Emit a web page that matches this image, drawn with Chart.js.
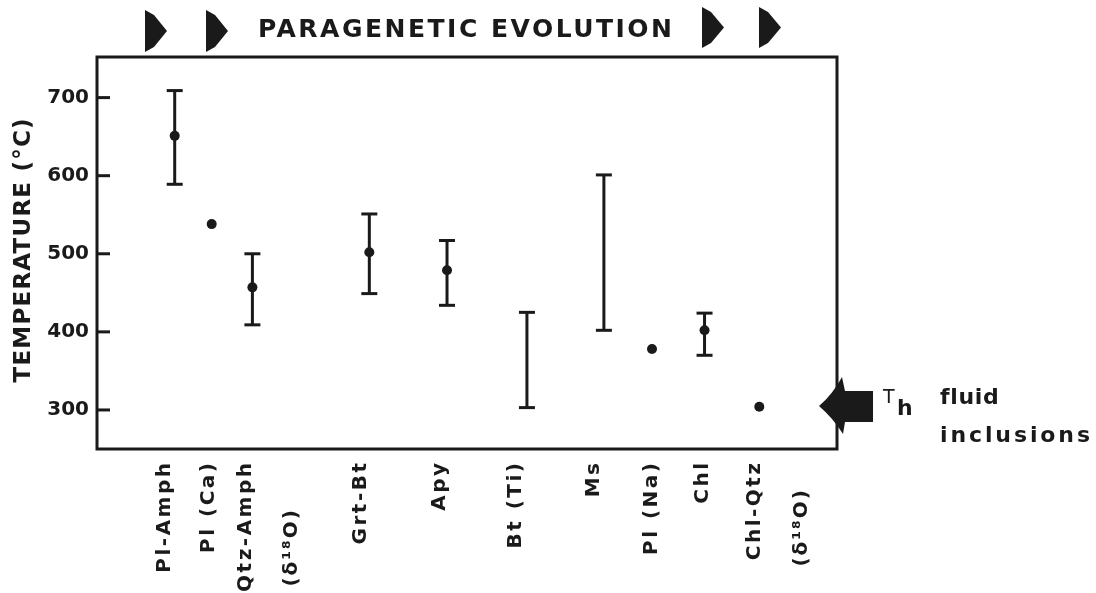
<!DOCTYPE html>
<html>
<head>
<meta charset="utf-8">
<script src="https://cdn.jsdelivr.net/npm/chart.js@4.4.0/dist/chart.umd.min.js"></script>
<style>
  html, body { margin: 0; padding: 0; background: #fff; }
</style>
</head>
<body>
<canvas id="myChart" width="1096" height="593"></canvas>
<script>
// geothermometers, in paragenetic order
var minerals = ['Pl-Amph', 'Pl (Ca)', 'Qtz-Amph', 'Grt-Bt', 'Apy', 'Bt (Ti)', 'Ms', 'Pl (Na)', 'Chl', 'Chl-Qtz'];
var subLabels = [null, null, '(δ¹⁸O)', null, null, null, null, null, null, '(δ¹⁸O)'];
// relative position in the paragenetic sequence (0 = early .. 100 = late)
var sequence = [10.5, 15.5, 21, 36.8, 47.3, 58.1, 68.5, 75, 82.1, 89.5];
// temperatures (°C)
var tempMid  = [651, 538, 457, 502, 479, null, null, 378, 402, 304];
var tempLow  = [589, null, 409, 449, 434, 303, 402, null, 370, null];
var tempHigh = [709, null, 500, 551, 517, 425, 601, null, 424, null];
var yTicks = [300, 400, 500, 600, 700];
var thFluid = 305; // Th of fluid inclusions

var ink = '#1a1a1a';

// build the datasets from the arrays above
var stems = [], caps = [], dots = [];
for (var i = 0; i < minerals.length; i++) {
  if (tempLow[i] != null && tempHigh[i] != null) {
    stems.push({x: sequence[i], y: tempLow[i]}, {x: sequence[i], y: tempHigh[i]}, {x: sequence[i], y: null});
    caps.push({x: sequence[i], y: tempLow[i]}, {x: sequence[i], y: tempHigh[i]});
  }
  if (tempMid[i] != null) dots.push({x: sequence[i], y: tempMid[i]});
}

// layout tweaks for the hand lettered labels
var labelNudge = [-10, -3, -7, -9, -7, -11, -10, 0, -2, -5];
var subPos = {2: [46, 510], 9: [47, 490]};

function fitText(ctx, text, x, y, width) {
  ctx.letterSpacing = '0px';
  var w = ctx.measureText(text).width;
  var n = Array.from(text).length;
  ctx.letterSpacing = Math.max(0, (width - w) / (n - 1)) + 'px';
  ctx.textAlign = 'left';
  ctx.fillText(text, x, y);
  ctx.letterSpacing = '0px';
}

function upText(ctx, text, cx, top, spacing) {
  ctx.save();
  ctx.translate(cx, top);
  ctx.rotate(-Math.PI / 2);
  ctx.letterSpacing = '0px';
  var n = Array.from(text).length;
  var w = ctx.measureText(text).width + spacing * (n - 1);
  ctx.letterSpacing = spacing + 'px';
  ctx.textAlign = 'left';
  ctx.textBaseline = 'middle';
  ctx.fillText(text, -w, 0);
  ctx.restore();
}

function headArrow(ctx, x0, top, bot) {
  var mid = (top + bot) / 2;
  ctx.beginPath();
  ctx.moveTo(x0, top);
  ctx.lineTo(x0 + 9, top + 5);
  ctx.lineTo(x0 + 22, mid);
  ctx.lineTo(x0 + 9, bot - 5);
  ctx.lineTo(x0, bot);
  ctx.closePath();
  ctx.fill();
}

var decor = {
  id: 'decor',
  afterDraw: function(chart) {
    var ctx = chart.ctx, a = chart.chartArea;
    var xs = chart.scales.x, ys = chart.scales.y;
    ctx.save();
    ctx.strokeStyle = ink;
    ctx.fillStyle = ink;

    // frame and inward ticks
    ctx.lineWidth = 3;
    ctx.strokeRect(a.left, a.top, a.right - a.left, a.bottom - a.top);
    yTicks.forEach(function(v) {
      var y = ys.getPixelForValue(v);
      ctx.beginPath();
      ctx.moveTo(a.left, y);
      ctx.lineTo(a.left + 13, y);
      ctx.stroke();
    });

    // y title
    ctx.save();
    ctx.translate(24.5, 250.5);
    ctx.rotate(-Math.PI / 2);
    ctx.font = 'bold 23px "DejaVu Sans"';
    ctx.textBaseline = 'middle';
    fitText(ctx, 'TEMPERATURE (°C)', -132, 0, 264);
    ctx.restore();

    // header
    [145, 206].forEach(function(x) { headArrow(ctx, x, 10, 52); });
    [702, 759].forEach(function(x) { headArrow(ctx, x, 7, 48); });
    ctx.font = 'bold 25px "DejaVu Sans"';
    ctx.textBaseline = 'alphabetic';
    fitText(ctx, 'PARAGENETIC EVOLUTION', 258, 37, 414);

    // mineral labels
    ctx.font = 'bold 20px "DejaVu Sans"';
    minerals.forEach(function(m, i) {
      var cx = xs.getPixelForValue(sequence[i]) + labelNudge[i];
      upText(ctx, m, cx, a.bottom + 14, 2.5);
      if (subLabels[i]) upText(ctx, subLabels[i], cx + subPos[i][0], subPos[i][1], 2);
    });

    // Th fluid inclusions arrow
    var yT = ys.getPixelForValue(thFluid);
    var tx = a.right - 18;
    ctx.beginPath();
    ctx.moveTo(tx, yT);
    ctx.quadraticCurveTo(tx + 14, yT - 12, tx + 23, yT - 29);
    ctx.lineTo(tx + 26, yT - 15);
    ctx.lineTo(tx + 54, yT - 15);
    ctx.lineTo(tx + 54, yT + 16);
    ctx.lineTo(tx + 26, yT + 16);
    ctx.lineTo(tx + 24, yT + 28);
    ctx.quadraticCurveTo(tx + 14, yT + 12, tx, yT);
    ctx.closePath();
    ctx.fill();

    ctx.textAlign = 'left';
    ctx.font = '19px "DejaVu Sans"';
    ctx.fillText('T', tx + 64, yT - 3);
    ctx.font = 'bold 22px "DejaVu Sans"';
    ctx.fillText('h', tx + 78, yT + 9);
    ctx.font = '600 22px "DejaVu Sans"';
    fitText(ctx, 'fluid', tx + 121, yT - 2, 58);
    fitText(ctx, 'inclusions', tx + 121, yT + 36, 150);
    ctx.restore();
  }
};

new Chart(document.getElementById('myChart'), {
  type: 'scatter',
  data: {
    datasets: [{
      data: stems,
      showLine: true,
      spanGaps: false,
      borderColor: ink,
      borderWidth: 3,
      pointRadius: 0
    }, {
      data: caps,
      pointStyle: 'line',
      pointRadius: 8,
      borderColor: ink,
      borderWidth: 3
    }, {
      data: dots,
      pointStyle: 'circle',
      pointRadius: 5,
      backgroundColor: ink,
      borderWidth: 0
    }]
  },
  options: {
    responsive: false,
    animation: false,
    events: [],
    layout: { padding: { left: 0, top: 57, right: 259, bottom: 144 } },
    plugins: { legend: { display: false }, tooltip: { enabled: false } },
    scales: {
      x: { type: 'linear', min: 0, max: 100, display: false },
      y: {
        min: 250,
        max: 752,
        border: { display: false },
        grid: { display: false, drawTicks: false },
        ticks: { color: ink, padding: 8, font: { family: 'DejaVu Sans', size: 20, weight: 'bold' } },
        afterBuildTicks: function(s) { s.ticks = yTicks.map(function(v) { return {value: v}; }); },
        afterFit: function(s) { s.width = 97; }
      }
    }
  },
  plugins: [decor]
});
</script>
</body>
</html>
